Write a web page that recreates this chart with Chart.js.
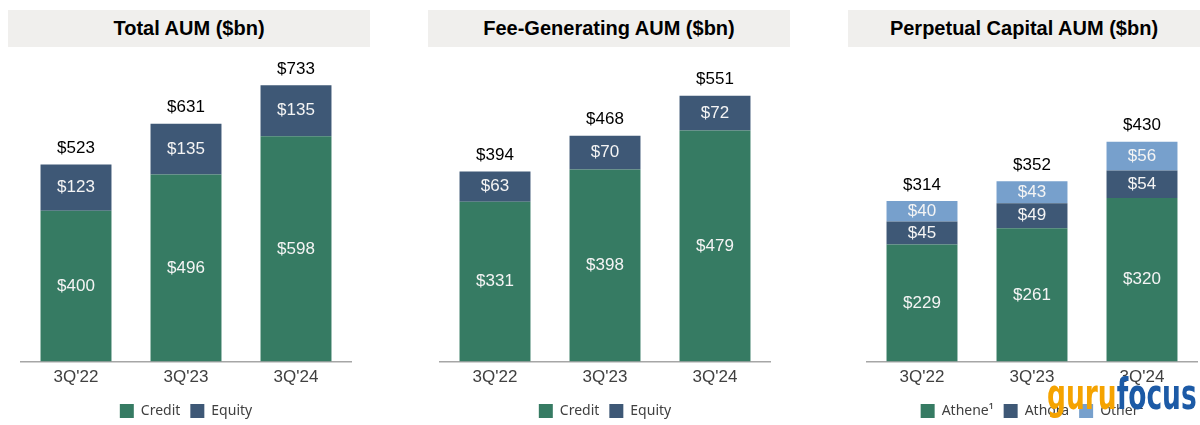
<!DOCTYPE html>
<html>
<head>
<meta charset="utf-8">
<script src="https://cdn.jsdelivr.net/npm/chart.js@4.4.0/dist/chart.umd.min.js"></script>
<style>
  body { margin: 0; width: 1200px; height: 425px; overflow: hidden; background: #fff; position: relative; font-family: "Liberation Sans", Arial, sans-serif; }
  .title { position: absolute; top: 10px; height: 37px; background: #f0efed; font-weight: bold; font-size: 20px; line-height: 37px; text-align: center; color: #000; }
  .panel { position: absolute; top: 47px; }
  #wm { position: absolute; left: 1047px; top: 374px; font-family: "DejaVu Sans", sans-serif; font-weight: bold; font-size: 42px; line-height: 42px; white-space: nowrap; transform-origin: left top; z-index: 5; }
</style>
</head>
<body>
<div class="title" style="left:8px;width:362px">Total AUM ($bn)</div>
<div class="title" style="left:428px;width:362px">Fee-Generating AUM ($bn)</div>
<div class="title" style="left:848px;width:352px">Perpetual Capital AUM ($bn)</div>

<canvas class="panel" id="totalChart" width="372" height="385" style="left:0px"></canvas>
<canvas class="panel" id="feeChart" width="372" height="385" style="left:419px"></canvas>
<canvas class="panel" id="perpChart" width="354" height="385" style="left:846px"></canvas>

<div id="wm"><span style="color:#f5a300">guru</span><span style="color:#1c5aa6">focus</span></div>

<script>
const categories = ["3Q'22", "3Q'23", "3Q'24"];

const totalCredit = [400, 496, 598];
const totalEquity = [123, 135, 135];
const totalSum = [523, 631, 733];

const feeCredit = [331, 398, 479];
const feeEquity = [63, 70, 72];
const feeSum = [394, 468, 551];

const perpAthene = [229, 261, 320];
const perpAthora = [45, 49, 54];
const perpOther = [40, 43, 56];
const perpSum = [314, 352, 430];

const GREEN = '#367b63';
const NAVY = '#3e5876';
const LIGHT = '#77a0cc';

Chart.defaults.font.family = '"Liberation Sans", Arial, sans-serif';

// segment values inside the bars, totals above them
const barLabels = {
  id: 'barLabels',
  afterDatasetsDraw(chart, args, opts) {
    const ctx = chart.ctx;
    ctx.save();
    ctx.font = '17px "Liberation Sans", Arial, sans-serif';
    ctx.textAlign = 'center';
    ctx.textBaseline = 'middle';
    chart.data.datasets.forEach((ds, i) => {
      chart.getDatasetMeta(i).data.forEach((bar, j) => {
        ctx.fillStyle = '#f4f4f4';
        ctx.fillText('$' + ds.data[j], bar.x, (bar.y + bar.base) / 2);
      });
    });
    const top = chart.getDatasetMeta(chart.data.datasets.length - 1);
    ctx.fillStyle = '#000';
    top.data.forEach((bar, j) => {
      ctx.fillText('$' + opts.totals[j], bar.x, bar.y - 16);
    });
    ctx.restore();
  }
};

function dataset(label, data, color) {
  return { label, data, backgroundColor: color, barPercentage: 0.645, categoryPercentage: 1 };
}

function makeChart(id, datasets, totals, yMax, padRight) {
  return new Chart(document.getElementById(id), {
    type: 'bar',
    data: { labels: categories, datasets },
    options: {
      responsive: false,
      animation: false,
      layout: { padding: { left: 21, right: padRight, top: 13, bottom: 4 } },
      scales: {
        x: {
          stacked: true,
          grid: { display: false, drawTicks: false },
          border: { color: '#a6a6a6', width: 1.5 },
          ticks: { color: '#404040', font: { size: 17 }, padding: 6 }
        },
        y: { stacked: true, display: false, min: 0, max: yMax }
      },
      plugins: {
        legend: {
          position: 'bottom',
          labels: { boxWidth: 14, boxHeight: 14, color: '#404040', padding: 10, font: { family: '"Noto Sans", sans-serif', size: 14 } }
        },
        tooltip: { enabled: false },
        barLabels: { totals }
      }
    },
    plugins: [barLabels]
  });
}

makeChart('totalChart', [dataset('Credit', totalCredit, GREEN), dataset('Equity', totalEquity, NAVY)], totalSum, 800, 21);
makeChart('feeChart', [dataset('Credit', feeCredit, GREEN), dataset('Equity', feeEquity, NAVY)], feeSum, 625, 21);
makeChart('perpChart', [
  dataset('Athene¹', perpAthene, GREEN),
  dataset('Athora', perpAthora, NAVY),
  dataset('Other²', perpOther, LIGHT)
], perpSum, 590, 3);

const wm = document.getElementById('wm');
wm.style.transform = 'scaleX(' + (150 / wm.offsetWidth) + ')';
</script>
</body>
</html>
